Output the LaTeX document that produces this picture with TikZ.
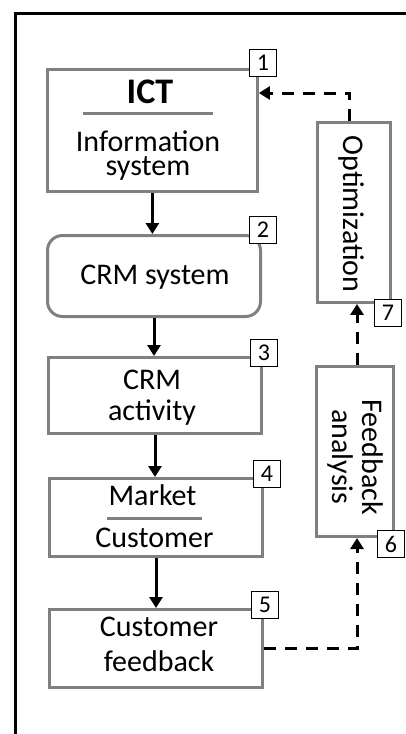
\documentclass[tikz,border=0pt]{standalone}
\usepackage{fontspec}
\setmainfont{Carlito}
\usetikzlibrary{arrows.meta,calc,positioning}
\definecolor{boxgray}{RGB}{128,128,128}

\begin{document}
\begin{tikzpicture}[x=1pt, y=-1pt,
  every node/.style={font=\fontsize{30}{30}\selectfont, inner sep=0pt},
  stage/.style={draw=boxgray, line width=3pt, minimum width=213pt, minimum height=78pt},
  numtag/.style={draw=black, line width=1.1pt, fill=white, minimum size=27pt,
    font=\fontsize{24}{24}\selectfont},
  flow/.style={line width=3pt, -{Triangle[width=13pt,length=11pt]}},
  loopback/.style={line width=3pt, dash pattern=on 12pt off 9pt,
    -{Triangle[width=13pt,length=11pt]}},
  divider/.style={draw=boxgray, line width=3pt},
  boxtext/.style={anchor=base, align=center}]

\useasboundingbox (0,0) rectangle (406,734);

%% Outer frame (left and top edge)
\draw[line width=3pt] (15,734) -- (15,13) -- (406,13);

%% Stage boxes, left column
\node[stage, minimum width=210pt, minimum height=122pt] (b1) at (152.4,130.5) {};
\node[stage, minimum height=81pt, rounded corners=15pt] (b2) at (154,276) {};
\node[stage, minimum height=76pt] (b3) at (155,395.5) {};
\node[stage] (b4) at (156,517.5) {};
\node[stage] (b5) at (156,648.5) {};

%% Stage boxes, right column
\node[stage, minimum width=77pt, minimum height=170pt] (b6) at (355,451.5) {};
\node[stage, minimum width=72.5pt, minimum height=179.5pt] (b7) at (353.8,212.7) {};

%% Box texts (base = baseline of the last line)
\node[boxtext, font=\bfseries\fontsize{36}{36}\selectfont] (ict) at (150,103) {ICT};
\draw[divider] (83,113) -- (213,113);
\node[boxtext, font=\fontsize{30}{24}\selectfont] (infosys) at (148,175) {Information\\system};
\node[boxtext] (crmsys) at (155,284) {CRM system};
\node[boxtext, font=\fontsize{30}{31}\selectfont] (crmact) at (152,420) {CRM\\activity};
\node[boxtext] (market) at (152.5,505) {Market};
\draw[divider] (107,518) -- (202,518);
\node[boxtext] (customer) at (154.5,547) {Customer};
\node[boxtext, font=\fontsize{30}{35}\selectfont] (custfb) at (159,671) {Customer\\feedback};
\node[boxtext, rotate=-90] (fbana) at (332,457) {Feedback\\analysis};
\node[boxtext, rotate=-90] (optim) at (343.5,214) {Optimization};

%% Main flow
\draw[flow] (b1.south) -- (b1.south |- b2.north);
\draw[flow] (b2.south) -- (b2.south |- b3.north);
\draw[flow] (b3.south) -- (b3.south |- b4.north);
\draw[flow] (b4.south) -- (b4.south |- b5.north);

%% Feedback loop (dashed)
\draw[loopback] (b5.east) -| ([xshift=2pt]b6.south);
\draw[loopback] ([xshift=2pt]b6.north) -- ([xshift=2pt]b6.north |- b7.south);
\draw[loopback] ([xshift=-4pt]b7.north) |- ([yshift=37.5pt]b1.east);

%% Step numbers
\node[numtag] (n1) at (263,63) {1};
\node[numtag] (n2) at (263,230) {2};
\node[numtag] (n3) at (264,353) {3};
\node[numtag] (n4) at (267,474) {4};
\node[numtag] (n5) at (265,605) {5};
\node[numtag] (n6) at (391,544) {6};
\node[numtag] (n7) at (388,313) {7};

\end{tikzpicture}
\end{document}
